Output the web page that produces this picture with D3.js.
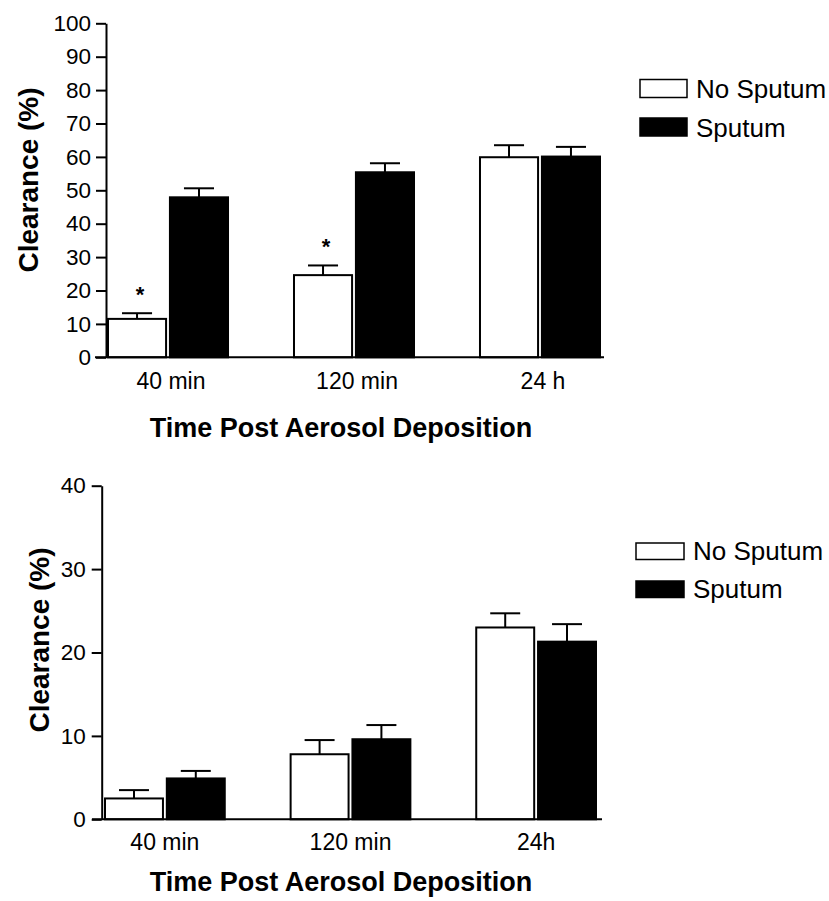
<!DOCTYPE html>
<html><head><meta charset="utf-8">
<script src="https://cdn.jsdelivr.net/npm/d3@7/dist/d3.min.js"></script>
<style>
body{margin:0;background:#fff}
svg{display:block;background:#fff}
text{font-family:"Liberation Sans",Arial,Helvetica,sans-serif;fill:#000}
</style>
</head><body>
<svg id="chart" width="829" height="901"></svg>
<script>
// ---------- data ----------
const seriesNames = ["No Sputum", "Sputum"];

const categoriesTop = ["40 min", "120 min", "24 h"];
const noSputumTop = [11.5, 24.6, 59.9];
const noSputumTopErr = [1.7, 2.9, 3.6];
const sputumTop = [47.9, 55.4, 60.1];
const sputumTopErr = [2.7, 2.7, 2.9];
const significantTop = [true, true, false];
const yTicksTop = [0, 10, 20, 30, 40, 50, 60, 70, 80, 90, 100];

const categoriesBottom = ["40 min", "120 min", "24h"];
const noSputumBottom = [2.5, 7.8, 23.0];
const noSputumBottomErr = [1.0, 1.7, 1.7];
const sputumBottom = [4.9, 9.6, 21.3];
const sputumBottomErr = [0.9, 1.7, 2.1];
const significantBottom = [false, false, false];
const yTicksBottom = [0, 10, 20, 30, 40];

const yTitle = "Clearance (%)";
const xTitle = "Time Post Aerosol Deposition";

// ---------- drawing ----------
const svg = d3.select("#chart");
const fills = ["#fff", "#000"];

function drawPanel(p) {
  const g = svg.append("g");
  const y = d3.scaleLinear().domain([0, d3.max(p.yTicks)]).range(p.yRange);
  const x0 = d3.scaleBand().domain(p.categories).range(p.xRange).paddingInner(0.344).paddingOuter(0);
  const x1 = d3.scaleBand().domain(seriesNames).range([0, x0.bandwidth()]).paddingInner(0.03);

  const rows = [];
  p.categories.forEach((c, i) => {
    rows.push({cat: c, s: seriesNames[0], v: p.no[i], e: p.noErr[i], sig: p.sig[i]});
    rows.push({cat: c, s: seriesNames[1], v: p.sp[i], e: p.spErr[i], sig: false});
  });

  // error bars (upward only)
  const eb = g.append("g").attr("stroke", "#000").attr("stroke-width", 2);
  rows.forEach(r => {
    const cx = x0(r.cat) + x1(r.s) + x1.bandwidth() / 2;
    const top = y(r.v + r.e);
    eb.append("line").attr("x1", cx).attr("x2", cx).attr("y1", y(r.v)).attr("y2", top);
    eb.append("line").attr("x1", cx - x1.bandwidth() / 4).attr("x2", cx + x1.bandwidth() / 4)
      .attr("y1", top).attr("y2", top);
  });

  // bars
  g.append("g").selectAll("rect").data(rows).join("rect")
    .attr("x", d => x0(d.cat) + x1(d.s) + 1)
    .attr("width", x1.bandwidth() - 2)
    .attr("y", d => y(d.v))
    .attr("height", d => y(0) - y(d.v))
    .attr("fill", d => fills[seriesNames.indexOf(d.s)])
    .attr("stroke", "#000").attr("stroke-width", 2);

  // significance asterisks
  g.append("g").selectAll("text").data(rows.filter(d => d.sig)).join("text")
    .attr("x", d => x0(d.cat) + x1(d.s) + x1.bandwidth() / 2 + 3)
    .attr("y", d => y(d.v + d.e) - 11)
    .attr("text-anchor", "middle").attr("font-weight", "bold").attr("font-size", 22)
    .text("*");

  // y axis
  const ya = g.append("g").attr("transform", `translate(${p.axisX},0)`)
    .call(d3.axisLeft(y).tickValues(p.yTicks).tickSize(10).tickSizeOuter(0).tickPadding(p.yPad));
  ya.select(".domain").attr("stroke-width", 2);
  ya.selectAll(".tick line").attr("stroke-width", 2);
  ya.selectAll(".tick text").attr("font-size", 22.5).attr("font-family", null);

  // x axis line
  g.append("line").attr("x1", p.xAxisLeft).attr("x2", p.xAxisRight)
    .attr("y1", y(0)).attr("y2", y(0)).attr("stroke", "#000").attr("stroke-width", 2);

  const xa = g.append("g").attr("transform", `translate(${p.labelShift},${y(0)})`)
    .call(d3.axisBottom(x0).tickSize(0).tickPadding(p.xPad));
  xa.select(".domain").remove();
  xa.selectAll(".tick text").attr("font-size", 23).attr("font-family", null);

  // titles
  g.append("text").attr("x", p.xTitleX).attr("y", p.xTitleY)
    .attr("text-anchor", "middle").attr("font-weight", "bold").attr("font-size", 27)
    .text(xTitle);
  g.append("text").attr("transform", `translate(${p.yTitleX},${p.yTitleY}) rotate(-90)`)
    .attr("text-anchor", "middle").attr("font-weight", "bold").attr("font-size", 28)
    .text(yTitle);

  // legend
  const lg = g.append("g");
  seriesNames.forEach((s, i) => {
    const by = p.legY + i * p.legGap;
    lg.append("rect").attr("x", p.legX).attr("y", by).attr("width", p.legW).attr("height", p.legH)
      .attr("fill", fills[i]).attr("stroke", "#000").attr("stroke-width", 1.5);
    lg.append("text").attr("x", p.legTextX).attr("y", by + p.legH + 0.5)
      .attr("font-size", 26).text(s);
  });
}

drawPanel({
  categories: categoriesTop, no: noSputumTop, noErr: noSputumTopErr,
  sp: sputumTop, spErr: sputumTopErr, sig: significantTop, yTicks: yTicksTop,
  yRange: [357.3, 23.3], xRange: [107, 601], axisX: 106, yPad: 5,
  xAxisLeft: 95, xAxisRight: 604, xPad: 15, labelShift: 3,
  xTitleX: 341, xTitleY: 437, yTitleX: 38, yTitleY: 180,
  legX: 640, legY: 79.5, legW: 47, legH: 18, legGap: 38.5, legTextX: 696
});

drawPanel({
  categories: categoriesBottom, no: noSputumBottom, noErr: noSputumBottomErr,
  sp: sputumBottom, spErr: sputumBottomErr, sig: significantBottom, yTicks: yTicksBottom,
  yRange: [819.3, 485.7], xRange: [104, 597], axisX: 101.7, yPad: 6,
  xAxisLeft: 92, xAxisRight: 602, xPad: 14, labelShift: 0,
  xTitleX: 341, xTitleY: 891, yTitleX: 49, yTitleY: 640,
  legX: 636, legY: 543, legW: 48, legH: 16.5, legGap: 38, legTextX: 693
});
</script>
</body></html>
